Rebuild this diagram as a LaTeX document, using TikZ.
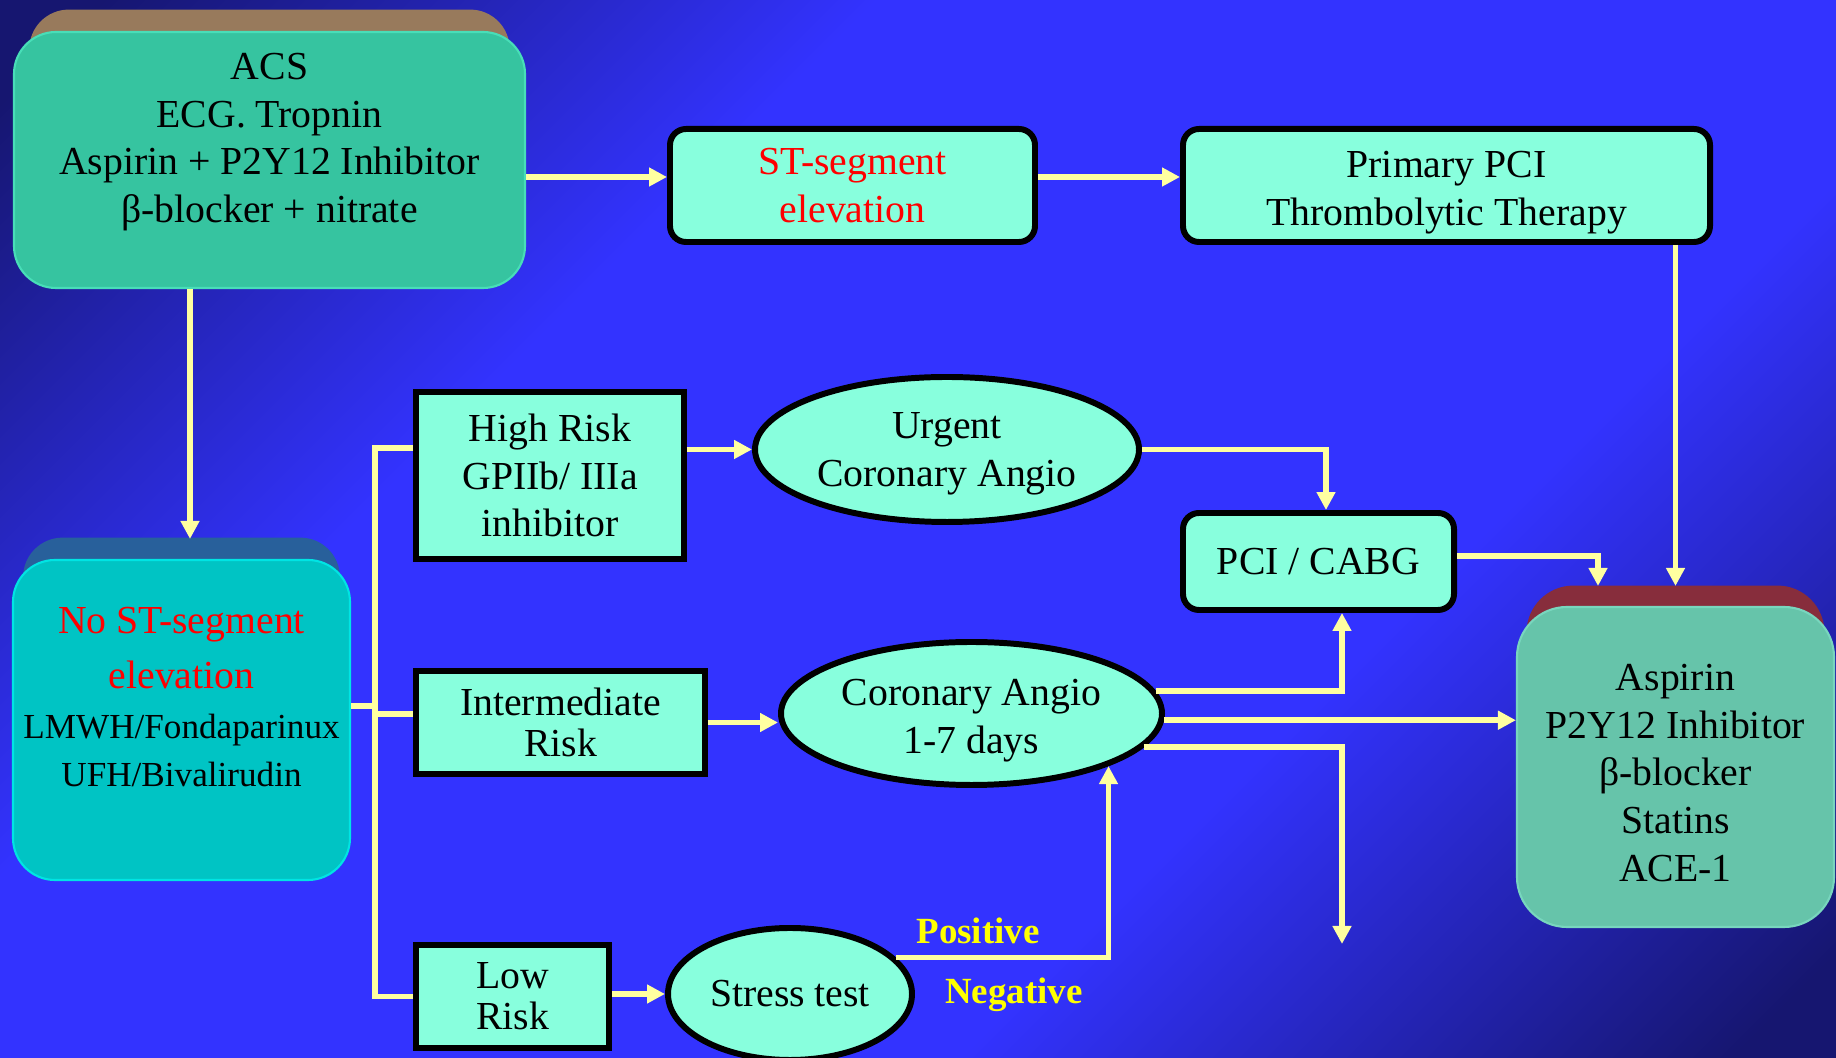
\documentclass[tikz,border=0pt]{standalone}
\usepackage{fontspec}
\setmainfont{Liberation Serif}
\usetikzlibrary{arrows.meta}
\usetikzlibrary{shapes.geometric}
\usetikzlibrary{shadows}
\tikzset{>={Triangle[length=1.8mm,width=1.8mm]}}
\definecolor{bgdark}{RGB}{22,22,112}
\definecolor{bgblue}{RGB}{51,51,255}
\definecolor{aqua}{RGB}{136,255,221}
\definecolor{wire}{RGB}{255,255,160}
\definecolor{signyellow}{RGB}{255,255,0}
\definecolor{acsgreen}{RGB}{54,196,160}
\definecolor{acsrim}{RGB}{72,222,184}
\definecolor{acstop}{RGB}{152,122,92}
\definecolor{nostcyan}{RGB}{0,196,196}
\definecolor{nostrim}{RGB}{0,228,228}
\definecolor{nosttop}{RGB}{40,96,155}
\definecolor{carejade}{RGB}{102,196,170}
\definecolor{carerim}{RGB}{120,214,190}
\definecolor{caretop}{RGB}{135,45,60}
\pgfdeclareverticalshading{bgshade}{100bp}{color(0bp)=(bgdark); color(17bp)=(bgdark); color(36bp)=(bgblue); color(64bp)=(bgblue); color(83bp)=(bgdark); color(100bp)=(bgdark)}
\tikzset{
  flow/.style={->, draw=wire, line width=1.6pt},
  link/.style={draw=wire, line width=1.6pt},
  box/.style={draw=black, line width=1.7pt, fill=aqua, align=center, inner sep=0pt},
  roundbox/.style={box, rounded corners=1.6mm},
  oval/.style={box, ellipse},
  tight/.style={font=\fontsize{11.3}{11.7}\selectfont},
  slab/.style={line width=0.6pt, rounded corners=4.2mm, align=center, inner sep=0pt},
  txt/.style={align=center},
  sign/.style={text=signyellow, font=\bfseries\fontsize{10.5}{12}\selectfont}
}

\begin{document}
\begin{tikzpicture}[x=1mm, y=-1mm, font=\fontsize{11.3}{13.6}\selectfont]
        \useasboundingbox (0,0) rectangle (183.6,105.8);
        \shade[shading=bgshade, shading angle=45] (0,0) rectangle (183.6,105.8);

        \node (acs) [slab, fill=acsgreen, draw=acsrim, minimum width=51.1mm, minimum height=25.6mm,
          general shadow={fill=acstop, shadow yshift=3.2mm, shadow scale=0.94}] at (26.95,16.0) {};
        \node (acstxt) [txt] at (26.95,14.2) {ACS\\ECG. Tropnin\\Aspirin + P2Y12 Inhibitor\\β-blocker + nitrate};

        \node (nost) [slab, fill=nostcyan, draw=nostrim, minimum width=33.7mm, minimum height=32mm,
          general shadow={fill=nosttop, shadow yshift=3.4mm, shadow scale=0.94}] at (18.15,72.0) {};
        \node (nosttxt) [txt] at (18.15,69.7) {\textcolor{red}{No ST-segment}\\[0.7mm]
          \textcolor{red}{elevation}\\[0.3mm]
          {\fontsize{10}{13.6}\selectfont LMWH/Fondaparinux}\\
          {\fontsize{10}{13.6}\selectfont UFH/Bivalirudin}};

        \node (care) [slab, fill=carejade, draw=carerim, rounded corners=5mm, minimum width=31.7mm, minimum height=32mm,
          general shadow={fill=caretop, shadow yshift=3.3mm, shadow scale=0.94}] at (167.55,76.7)
          {\rule{0pt}{3.8mm}Aspirin\\P2Y12 Inhibitor\\β-blocker\\Statins\\ACE-1};

        \node (stseg) [roundbox, text=red, minimum width=36.5mm, minimum height=11.3mm] at (85.25,18.55) {ST-segment\\elevation};
        \node (primary) [roundbox, minimum width=52.7mm, minimum height=11.3mm] at (144.65,18.55) {\rule{0pt}{4mm}Primary PCI\\Thrombolytic Therapy};
        \node (high) [box, minimum width=26.8mm, minimum height=16.7mm] at (55.0,47.55) {High Risk\\GPIIb/ IIIa\\inhibitor};
        \node (urgent) [oval, minimum width=38.4mm, minimum height=14.5mm] at (94.7,44.95) {\rule{0pt}{3.4mm}Urgent\\Coronary Angio};
        \node (pcicabg) [roundbox, minimum width=27.1mm, minimum height=9.7mm] at (131.85,56.15) {PCI / CABG};
        \node (inter) [box, tight, minimum width=28.9mm, minimum height=10.3mm] at (56.05,72.25) {Intermediate\\Risk};
        \node (coro) [oval, minimum width=38.1mm, minimum height=14.3mm] at (97.15,71.35) {\rule{0pt}{4mm}Coronary Angio\\1-7 days};
        \node (low) [box, tight, minimum width=19.3mm, minimum height=10.3mm] at (51.25,99.65) {Low\\Risk};
        \node (stress) [oval, minimum width=24.4mm, minimum height=13.2mm] at (79.0,99.4) {Stress test};

        \coordinate (trunk) at (37.5,70.6);
        \coordinate (open) at (134.2,94.4);

        \draw[flow] ([yshift=0.85mm]stseg.west -| acs.east) -- ([yshift=0.85mm]stseg.west);
        \draw[flow] ([yshift=0.85mm]stseg.east) -- ([yshift=0.85mm]primary.west);
        \draw[flow] (primary.south -| care.north) -- ([yshift=2mm]care.north);
        \draw[flow] ([xshift=0.85mm]nost.north |- acs.south) -- ([xshift=0.85mm,yshift=2mm]nost.north);

        \draw[link] ([yshift=2.75mm]high.west) -| (trunk) |- (low.west);
        \draw[link] ([yshift=1.4mm]nost.east) -- ([yshift=1.4mm]nost.east -| trunk);
        \draw[link] ([yshift=0.85mm]inter.west -| trunk) -- ([yshift=0.85mm]inter.west);

        \draw[flow] (high.east |- urgent.west) -- (urgent.west);
        \draw[flow] (urgent.east) -| ([xshift=0.75mm]pcicabg.north);
        \draw[flow] (inter.east) -- (inter.east -| coro.west);
        \draw[flow] (coro.7.5) -| ([xshift=2.35mm]pcicabg.south);
        \draw[flow] (coro.-2.3) -- (coro.-2.3 -| care.west);
        \draw[flow] (coro.-11.3) -| (open);
        \draw[flow] ([yshift=0.55mm]pcicabg.east) -| ([xshift=-7.75mm,yshift=2mm]care.north);
        \draw[flow] (low.east |- stress.west) -- (stress.west);
        \draw[flow] (stress.19.4) -| (coro.-21.8);

        \node (pos) [sign] at (97.8,93.1) {Positive};
        \node (neg) [sign] at (101.4,99.5) {Negative};
      \end{tikzpicture}
\end{document}
